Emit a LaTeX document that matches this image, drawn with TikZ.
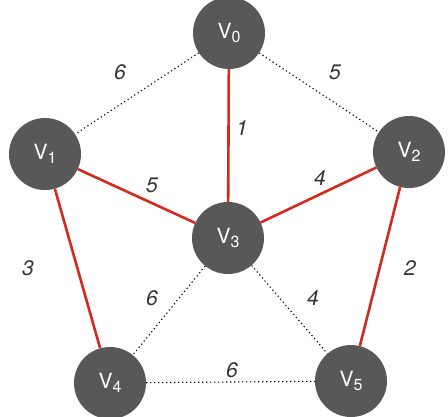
\documentclass[tikz,border=0pt]{standalone}
\usepackage{fontspec}
\setmainfont{TeX Gyre Heros}
\usetikzlibrary{positioning}
\definecolor{nodegray}{HTML}{585858}
\definecolor{edgered}{HTML}{D42A1E}
\newcommand{\vsub}[1]{V\raisebox{-4.5pt}{\fontsize{16}{16}\selectfont #1}}

\begin{document}
\begin{tikzpicture}[x=1pt,y=-1pt,
  vtx/.style={circle, fill=nodegray, text=white, minimum size=72pt, inner sep=0pt, font=\fontsize{21}{21}\selectfont},
  tree/.style={edgered, line width=2.6pt},
  rest/.style={dash pattern=on 1.2pt off 2.8pt, line width=1.1pt},
  wt/.style={font=\fontsize{21}{21}\selectfont\itshape, text=black!80}]
\useasboundingbox (0,0) rectangle (448,416);
\node[vtx] (v0) at (229,33) {\vsub{0}};
\node[vtx] (v1) at (45,154) {\vsub{1}};
\node[vtx] (v2) at (409,152) {\vsub{2}};
\node[vtx] (v3) at (228,238) {\vsub{3}};
\node[vtx] (v4) at (110,383) {\vsub{4}};
\node[vtx] (v5) at (351,381) {\vsub{5}};
\draw[rest] (v0) -- (v1);
\draw[rest] (v0) -- (v2);
\draw[rest] (v3) -- (v4);
\draw[rest] (v3) -- (v5);
\draw[rest] (v4) -- (v5);
\draw[tree] (v0) -- (v3);
\draw[tree] (v1) -- (v3);
\draw[tree] (v2) -- (v3);
\draw[tree] (v1) -- (v4);
\draw[tree] (v2) -- (v5);
\node[wt] (w01) at (120,72) {6};
\node[wt] (w02) at (335,72) {5};
\node[wt] (w03) at (242,128) {1};
\node[wt] (w13) at (152,185) {5};
\node[wt] (w23) at (320,178) {4};
\node[wt] (w14) at (28,268) {3};
\node[wt] (w25) at (410,268) {2};
\node[wt] (w34) at (152,298) {6};
\node[wt] (w35) at (313,298) {4};
\node[wt] (w45) at (232,370) {6};
\end{tikzpicture}
\end{document}
